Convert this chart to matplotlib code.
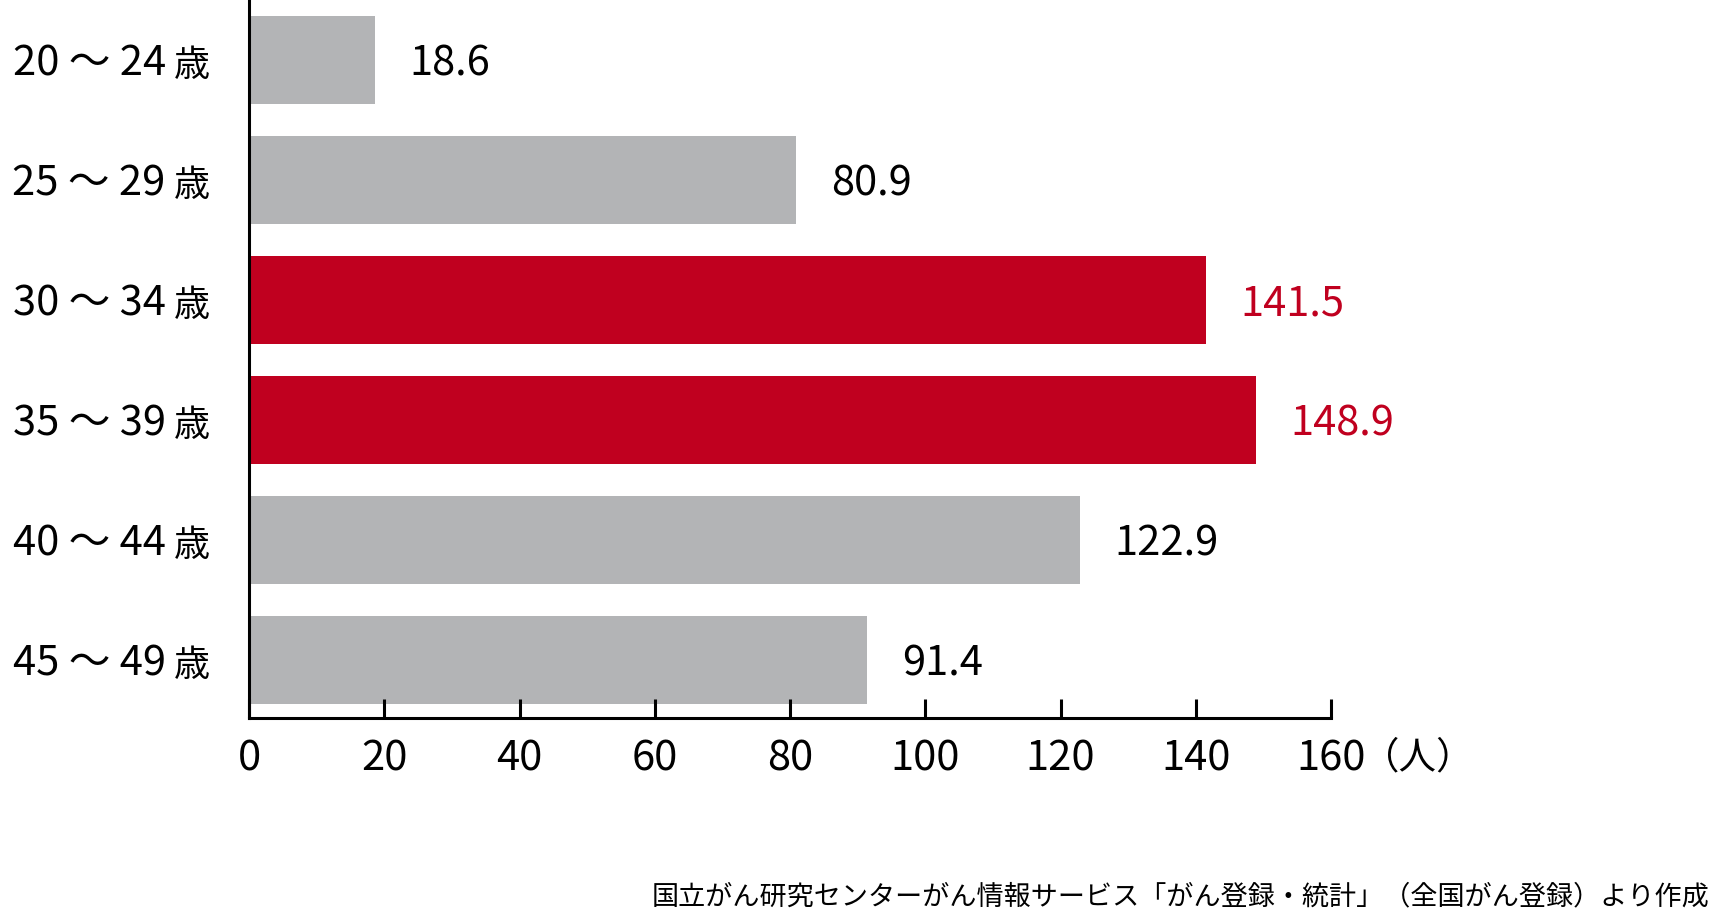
import matplotlib
matplotlib.use('Agg')
import matplotlib.pyplot as plt

ages = ['20 ～ 24', '25 ～ 29', '30 ～ 34', '35 ～ 39', '40 ～ 44', '45 ～ 49']
values = [18.6, 80.9, 141.5, 148.9, 122.9, 91.4]
highlight = [False, False, True, True, False, False]
xticks = [0, 20, 40, 60, 80, 100, 120, 140, 160]
unit = '（人）'
suffix = '歳'
source = '国立がん研究センターがん情報サービス「がん登録・統計」（全国がん登録）より作成'

GRAY = '#b3b4b6'
RED = '#c0001f'
FONT = ['Noto Sans CJK JP', 'DejaVu Sans']
plt.rcParams['font.family'] = FONT

fig = plt.figure(figsize=(17.12, 9.18), dpi=100)
ax = fig.add_axes([249 / 1712, 1 - 718 / 918, (1331 - 249) / 1712, 718 / 918])

ys = list(range(len(values)))
colors = [RED if h else GRAY for h in highlight]
ax.barh(ys, values, height=0.727, color=colors)

for y, v, h in zip(ys, values, highlight):
    ax.annotate(f'{v}', xy=(v, y), xytext=(25, -3), textcoords='offset points',
                ha='left', va='center', fontsize=30, color=RED if h else 'black')

# y labels: number part + smaller 歳
for y, a in zip(ys, ages):
    ax.annotate(a, xy=(0, y), xycoords=('axes fraction', 'data'), xytext=(-60, -3),
                textcoords='offset points', ha='right', va='center', fontsize=30)
    ax.annotate(suffix, xy=(0, y), xycoords=('axes fraction', 'data'), xytext=(-28, -4),
                textcoords='offset points', ha='right', va='center', fontsize=26)

ax.set_xlim(0, 160)
ax.set_ylim(5.483, -0.5)
ax.set_xticks(xticks)
ax.set_xticklabels([str(t) for t in xticks], fontsize=30)
ax.tick_params(axis='x', direction='in', length=14, width=2.2, pad=15)
ax.set_yticks([])

for s in ['top', 'right']:
    ax.spines[s].set_visible(False)
ax.spines['left'].set_linewidth(2.2)
ax.spines['bottom'].set_linewidth(2.2)

ax.annotate(unit, xy=(160, 0), xycoords=('data', 'axes fraction'), xytext=(22, -15),
            textcoords='offset points', ha='left', va='top', fontsize=27)

fig.text(1709 / 1712, 1 - 897 / 918, source, ha='right', va='center', fontsize=19.5)

fig.savefig('out.png', dpi=100)
